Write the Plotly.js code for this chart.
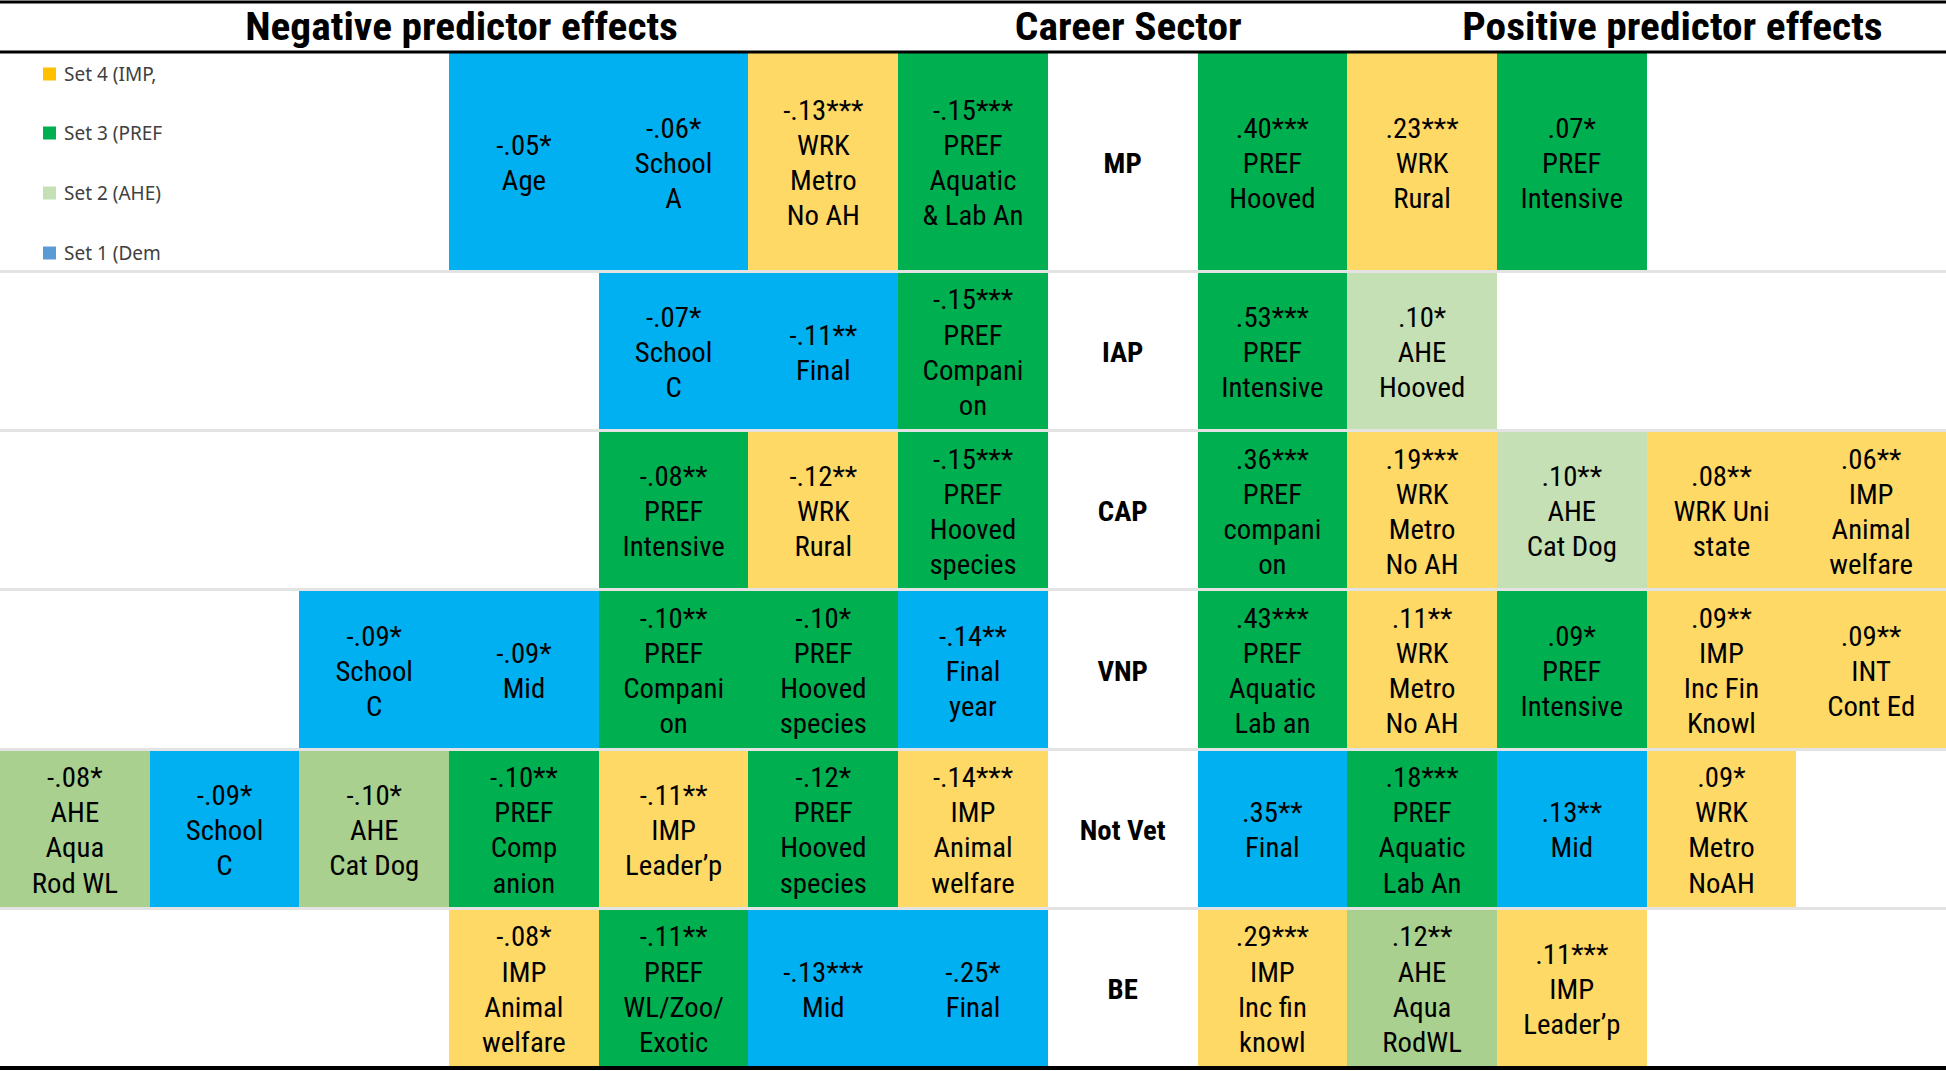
<!DOCTYPE html>
<html>
<head>
<meta charset="utf-8">
<script src="https://cdn.plot.ly/plotly-3.0.1.min.js"></script>
<style>
  html, body { margin: 0; padding: 0; background: #ffffff; }
  #chart { width: 1946px; height: 1071px; }
  /* narrow face (Arial-Narrow-like) from the variable Roboto font */
  #chart text { font-stretch: condensed; }
  /* Arial Narrow is a touch wider than Roboto Condensed */
  #chart .textpoint text { transform-box: fill-box; transform-origin: center; transform: scaleX(1.065); }
  #chart text.annotation-text[data-unformatted$="effects"],
  #chart text.annotation-text[data-unformatted="Career Sector"] { transform-box: fill-box; transform-origin: center; transform: scaleX(1.09); }
</style>
</head>
<body>
<div id="chart"></div>
<script>
// ---------------- DATA ----------------
const sectors = ['MP', 'IAP', 'CAP', 'VNP', 'Not Vet', 'BE'];

// Negative predictor effects, per sector, listed left -> right (the last one sits next to the sector column)
const negCoef = [
  ['-.05*', '-.06*', '-.13***', '-.15***'],
  ['-.07*', '-.11**', '-.15***'],
  ['-.08**', '-.12**', '-.15***'],
  ['-.09*', '-.09*', '-.10**', '-.10*', '-.14**'],
  ['-.08*', '-.09*', '-.10*', '-.10**', '-.11**', '-.12*', '-.14***'],
  ['-.08*', '-.11**', '-.13***', '-.25*']
];
const negPred = [
  ['Age', 'School\nA', 'WRK\nMetro\nNo AH', 'PREF\nAquatic\n& Lab An'],
  ['School\nC', 'Final', 'PREF\nCompani\non'],
  ['PREF\nIntensive', 'WRK\nRural', 'PREF\nHooved\nspecies'],
  ['School\nC', 'Mid', 'PREF\nCompani\non', 'PREF\nHooved\nspecies', 'Final\nyear'],
  ['AHE\nAqua\nRod WL', 'School\nC', 'AHE\nCat Dog', 'PREF\nComp\nanion', 'IMP\nLeader\u2019p', 'PREF\nHooved\nspecies', 'IMP\nAnimal\nwelfare'],
  ['IMP\nAnimal\nwelfare', 'PREF\nWL/Zoo/\nExotic', 'Mid', 'Final']
];
// predictor set: D = Set 1 (Dem), A1/A2 = Set 2 (AHE, two shades), P = Set 3 (PREF), I = Set 4 (IMP/WRK/INT)
const negSet = [
  ['D', 'D', 'I', 'P'],
  ['D', 'D', 'P'],
  ['P', 'I', 'P'],
  ['D', 'D', 'P', 'P', 'D'],
  ['A2', 'D', 'A2', 'P', 'I', 'P', 'I'],
  ['I', 'P', 'D', 'D']
];

// Positive predictor effects, per sector, listed left -> right (the first one sits next to the sector column)
const posCoef = [
  ['.40***', '.23***', '.07*'],
  ['.53***', '.10*'],
  ['.36***', '.19***', '.10**', '.08**', '.06**'],
  ['.43***', '.11**', '.09*', '.09**', '.09**'],
  ['.35**', '.18***', '.13**', '.09*'],
  ['.29***', '.12**', '.11***']
];
const posPred = [
  ['PREF\nHooved', 'WRK\nRural', 'PREF\nIntensive'],
  ['PREF\nIntensive', 'AHE\nHooved'],
  ['PREF\ncompani\non', 'WRK\nMetro\nNo AH', 'AHE\nCat Dog', 'WRK Uni\nstate', 'IMP\nAnimal\nwelfare'],
  ['PREF\nAquatic\nLab an', 'WRK\nMetro\nNo AH', 'PREF\nIntensive', 'IMP\nInc Fin\nKnowl', 'INT\nCont Ed'],
  ['Final', 'PREF\nAquatic\nLab An', 'Mid', 'WRK\nMetro\nNoAH'],
  ['IMP\nInc fin\nknowl', 'AHE\nAqua\nRodWL', 'IMP\nLeader\u2019p']
];
const posSet = [
  ['P', 'I', 'P'],
  ['P', 'A1'],
  ['P', 'I', 'A1', 'I', 'I'],
  ['P', 'I', 'P', 'I', 'I'],
  ['D', 'P', 'D', 'I'],
  ['I', 'A2', 'I']
];

const legendLabels = ['Set 4 (IMP,', 'Set 3 (PREF', 'Set 2 (AHE)', 'Set 1 (Dem'];
const headerLabels = ['Negative predictor effects', 'Career Sector', 'Positive predictor effects'];

// ---------------- STYLE / LAYOUT ----------------
const W = 1946, H = 1071;
const M = { l: 0, r: 0, t: 52, b: 3 };
const NCOL = 13;
const SECTOR_COL = 7;
const rowWeights = [1.38, 1, 1, 1, 1, 1];
const setIndex = { D: 1, A1: 2, A2: 3, P: 4, I: 5 };
const setColors = ['#ffffff', '#00B0F0', '#C5E0B4', '#A9D08E', '#00B050', '#FFD966'];
const legendColors = ['#FFC000', '#00B050', '#C5E0B4', '#5B9BD5'];
const FONT_NARROW = "Roboto, 'Liberation Sans', sans-serif";
const TEXT_SHIFT_PX = 4;   // cell text sits slightly below the geometric centre

// row edges in axis units
const yEdges = [0];
rowWeights.forEach(w => yEdges.push(yEdges[yEdges.length - 1] + w));
const yTotal = yEdges[yEdges.length - 1];
const plotW = W - M.l - M.r, plotH = H - M.t - M.b;
const shiftUnits = TEXT_SHIFT_PX * yTotal / plotH;
const yCenters = rowWeights.map((w, i) => (yEdges[i] + yEdges[i + 1]) / 2);

// build heatmap matrix + cell text
const z = sectors.map(() => new Array(NCOL).fill(0));
const tx = [], ty = [], tt = [];
sectors.forEach((s, r) => {
  const n = negCoef[r].length;
  negCoef[r].forEach((c, k) => {
    const col = SECTOR_COL - n + k;
    z[r][col] = setIndex[negSet[r][k]];
    tx.push(col); ty.push(yCenters[r] + shiftUnits);
    tt.push(c + '<br>' + negPred[r][k].replace(/\n/g, '<br>'));
  });
  posCoef[r].forEach((c, k) => {
    const col = SECTOR_COL + 1 + k;
    z[r][col] = setIndex[posSet[r][k]];
    tx.push(col); ty.push(yCenters[r] + shiftUnits);
    tt.push(c + '<br>' + posPred[r][k].replace(/\n/g, '<br>'));
  });
});
const zNorm = z.map(row => row.map(v => v / 5));
const cs = [];
setColors.forEach((c, i) => {
  const a = Math.max(0, (i - 0.5) / 5), b = Math.min(1, (i + 0.5) / 5);
  cs.push([a, c]); cs.push([b, c]);
});

const colIdx = Array.from({ length: NCOL }, (_, i) => i);

const traces = [
  {
    type: 'heatmap',
    x: colIdx,
    y: yEdges,
    z: zNorm,
    zmin: 0, zmax: 1,
    colorscale: cs,
    showscale: false,
    ygap: 3,
    xgap: 0,
    hoverinfo: 'skip'
  },
  {
    type: 'scatter',
    mode: 'text',
    x: tx, y: ty, text: tt,
    textposition: 'middle center',
    textfont: { family: FONT_NARROW, size: 27, color: '#000000' },
    hoverinfo: 'skip',
    cliponaxis: false,
    showlegend: false
  },
  {
    type: 'scatter',
    mode: 'text',
    x: sectors.map(() => SECTOR_COL),
    y: yCenters.map(v => v + shiftUnits),
    text: sectors,
    textposition: 'middle center',
    textfont: { family: FONT_NARROW, size: 27, color: '#000000', weight: 'bold' },
    hoverinfo: 'skip',
    cliponaxis: false,
    showlegend: false
  }
];

// pixel -> paper helpers for decorations
const px = x => (x - M.l) / plotW;
const py = y => (H - M.b - y) / plotH;

const annotations = [];
const headerX = [461, 1128, 1672];
headerLabels.forEach((h, i) => {
  annotations.push({
    xref: 'paper', yref: 'paper', x: px(headerX[i]), y: py(27),
    xanchor: 'center', yanchor: 'middle', showarrow: false,
    text: h,
    font: { family: FONT_NARROW, size: 38, color: '#000000', weight: 'bold' }
  });
});
const legendY = [74, 133, 193, 253];
const shapes = [];
legendLabels.forEach((l, i) => {
  annotations.push({
    xref: 'paper', yref: 'paper', x: px(62), y: py(legendY[i]),
    xanchor: 'left', yanchor: 'middle', showarrow: false,
    text: l,
    font: { family: "'Noto Sans', 'Open Sans', sans-serif", size: 19, color: '#404040' }
  });
  shapes.push({
    type: 'rect', xref: 'paper', yref: 'paper',
    x0: px(43), x1: px(56), y0: py(legendY[i] - 6.5), y1: py(legendY[i] + 6.5),
    fillcolor: legendColors[i], line: { width: 0 }
  });
});
// rules
shapes.push({ type: 'line', xref: 'paper', yref: 'paper', x0: 0, x1: 1, y0: py(2), y1: py(2), line: { color: '#000000', width: 3 } });
shapes.push({ type: 'line', xref: 'paper', yref: 'paper', x0: 0, x1: 1, y0: 1, y1: 1, line: { color: '#000000', width: 3 } });
shapes.push({ type: 'line', xref: 'paper', yref: 'paper', x0: 0, x1: 1, y0: 0, y1: 0, line: { color: '#000000', width: 4 } });

const layout = {
  width: W, height: H,
  margin: M,
  paper_bgcolor: '#ffffff',
  plot_bgcolor: '#e3e3e3',
  showlegend: false,
  xaxis: { range: [-0.5, NCOL - 0.5], showgrid: false, zeroline: false, showticklabels: false, ticks: '', fixedrange: true },
  yaxis: { range: [yTotal, 0], showgrid: false, zeroline: false, showticklabels: false, ticks: '', fixedrange: true },
  annotations: annotations,
  shapes: shapes
};

Plotly.newPlot('chart', traces, layout, { displayModeBar: false, staticPlot: true });
</script>
</body>
</html>
